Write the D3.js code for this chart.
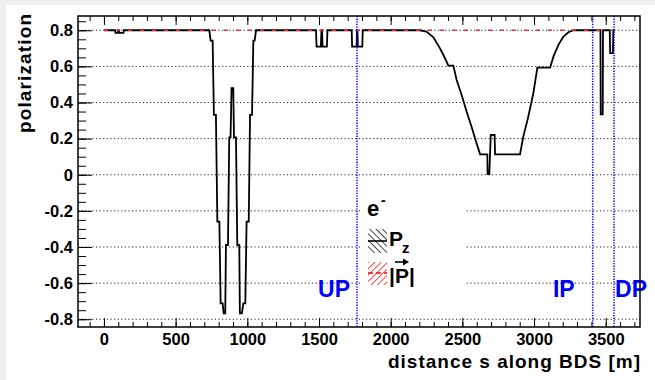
<!DOCTYPE html>
<html>
<head>
<meta charset="utf-8">
<script src="https://cdn.jsdelivr.net/npm/d3@7"></script>
<style>
body { margin: 0; background: #efefef; }
svg { display: block; font-family: "Liberation Sans", Arial, sans-serif; font-weight: bold; }
</style>
</head>
<body>
<svg id="chart" width="655" height="380"></svg>
<script>
// longitudinal polarisation P_z along the beam delivery system, [s (m), P]
var pzCurve = [
  [0, 0.8], [77, 0.8], [80, 0.786], [96, 0.786], [99, 0.8], [104, 0.8], [107, 0.786], [136, 0.786], [139, 0.8],
  [735, 0.8], [744, 0.743], [758, 0.743], [767, 0.331], [781, 0.331], [791, -0.26], [805, -0.26],
  [814, -0.712], [828, -0.712], [835, -0.767], [846, -0.767], [851, -0.389], [865, -0.389],
  [874, 0.207], [883, 0.207], [890, 0.479], [902, 0.479], [907, 0.207], [921, 0.207],
  [930, -0.389], [944, -0.389], [948, -0.767], [962, -0.767], [972, -0.712], [986, -0.712],
  [995, -0.26], [1010, -0.26], [1019, 0.331], [1033, 0.331], [1042, 0.743], [1051, 0.743], [1061, 0.8],
  [1479, 0.8], [1483, 0.709], [1513, 0.709], [1517, 0.8], [1521, 0.8], [1525, 0.709], [1555, 0.709], [1559, 0.8],
  [1728, 0.8], [1731, 0.709], [1762, 0.709], [1765, 0.8], [1768, 0.8], [1771, 0.709], [1802, 0.709], [1805, 0.8],
  [2205, 0.8], [2251, 0.792], [2298, 0.761], [2344, 0.7], [2379, 0.645], [2402, 0.604], [2437, 0.604],
  [2460, 0.525], [2495, 0.442], [2530, 0.349], [2564, 0.266], [2599, 0.174], [2624, 0.113], [2674, 0.113],
  [2676, 0.003], [2688, 0.003], [2698, 0.22], [2725, 0.22], [2728, 0.113], [2902, 0.113],
  [2925, 0.211], [2960, 0.322], [2995, 0.451], [3023, 0.593], [3112, 0.593],
  [3135, 0.654], [3170, 0.719], [3205, 0.765], [3240, 0.789], [3274, 0.8],
  [3463, 0.8], [3465, 0.335], [3479, 0.335], [3481, 0.8],
  [3528, 0.8], [3531, 0.673], [3550, 0.673], [3553, 0.8], [3561, 0.8]
];
// total polarisation |P|
var pAbsCurve = [[0, 0.8], [3470, 0.8]];

var markers = [
  { name: "UP", s: 1765 },
  { name: "IP", s: 3409 },
  { name: "DP", s: 3558 }
];

var xMajorTicks = [0, 500, 1000, 1500, 2000, 2500, 3000, 3500];
var xMinorTicks = d3.range(-100, 3701, 100);
var yMajorTicks = [-0.8, -0.6, -0.4, -0.2, 0, 0.2, 0.4, 0.6, 0.8];
var yMinorTicks = d3.range(-16, 18).map(function(k){ return k * 0.05; });

var svg = d3.select("#chart");
var frame = { left: 78, top: 16, right: 640, bottom: 327 };

var x = d3.scaleLinear().domain([-181, 3739]).range([frame.left, frame.right]);
var y = d3.scaleLinear().domain([-0.843, 0.879]).range([frame.bottom, frame.top]);

// canvas (ROOT-ish bevel on top / left)
svg.append("rect").attr("x", 6).attr("y", 5).attr("width", 649).attr("height", 375).attr("fill", "#fff");

// hatch patterns for the legend
var defs = svg.append("defs");
var hb = defs.append("pattern").attr("id", "hatchBlack").attr("patternUnits", "userSpaceOnUse")
    .attr("width", 4.5).attr("height", 4.5).attr("patternTransform", "rotate(-45)");
hb.append("line").attr("x1", 0).attr("y1", 0).attr("x2", 0).attr("y2", 4.5).attr("stroke", "#000").attr("stroke-width", 1.4);
var hr = defs.append("pattern").attr("id", "hatchRed").attr("patternUnits", "userSpaceOnUse")
    .attr("width", 4.5).attr("height", 4.5).attr("patternTransform", "rotate(45)");
hr.append("line").attr("x1", 0).attr("y1", 0).attr("x2", 0).attr("y2", 4.5).attr("stroke", "#f00").attr("stroke-width", 1.4);

// horizontal dotted grid
svg.append("g").selectAll("line").data(yMajorTicks).join("line")
    .attr("x1", frame.left).attr("x2", frame.right)
    .attr("y1", function(d){ return y(d); }).attr("y2", function(d){ return y(d); })
    .attr("stroke", "#222").attr("stroke-width", 1).attr("stroke-dasharray", "1.2,2.4");

// curves
var line = d3.line().x(function(d){ return x(d[0]); }).y(function(d){ return y(d[1]); });
svg.append("path").datum(pzCurve).attr("d", line)
    .attr("fill", "none").attr("stroke", "#000").attr("stroke-width", 1.8).attr("stroke-linejoin", "miter");
svg.append("path").datum(pAbsCurve).attr("d", line)
    .attr("fill", "none").attr("stroke", "#f03030").attr("stroke-width", 1.4).attr("stroke-dasharray", "4,8");

// UP / IP / DP positions
svg.append("g").selectAll("line").data(markers).join("line")
    .attr("x1", function(d){ return x(d.s); }).attr("x2", function(d){ return x(d.s); })
    .attr("y1", frame.top).attr("y2", frame.bottom)
    .attr("stroke", "#00f").attr("stroke-width", 1.5).attr("stroke-dasharray", "1.3,1.3");

var labelPos = { UP: { dx: -7, anchor: "end" }, IP: { dx: -18, anchor: "end" }, DP: { dx: 1, anchor: "start" } };
svg.append("g").selectAll("text").data(markers).join("text")
    .attr("x", function(d){ return x(d.s) + labelPos[d.name].dx; })
    .attr("y", 297)
    .attr("text-anchor", function(d){ return labelPos[d.name].anchor; })
    .attr("fill", "#00f").attr("font-size", 23)
    .text(function(d){ return d.name; });

// legend
var leg = svg.append("g");
leg.append("rect").attr("x", 360).attr("y", 190).attr("width", 105).attr("height", 105).attr("fill", "#fff");
leg.append("text").attr("x", 367).attr("y", 216).attr("font-size", 22).text("e");
leg.append("text").attr("x", 381).attr("y", 205).attr("font-size", 14).text("-");
leg.append("rect").attr("x", 368).attr("y", 229).attr("width", 19).attr("height", 24).attr("fill", "url(#hatchBlack)");
leg.append("line").attr("x1", 368).attr("x2", 387).attr("y1", 241).attr("y2", 241).attr("stroke", "#000").attr("stroke-width", 1.6);
leg.append("text").attr("x", 389).attr("y", 246).attr("font-size", 21).text("P");
leg.append("text").attr("x", 402).attr("y", 253).attr("font-size", 15).text("z");
leg.append("rect").attr("x", 368).attr("y", 262).attr("width", 19).attr("height", 23).attr("fill", "url(#hatchRed)");
leg.append("line").attr("x1", 368).attr("x2", 387).attr("y1", 273).attr("y2", 273).attr("stroke", "#f00").attr("stroke-width", 1.6).attr("stroke-dasharray", "5,3");
leg.append("text").attr("x", 389).attr("y", 283).attr("font-size", 21).text("|P|");
leg.append("line").attr("x1", 395).attr("x2", 406).attr("y1", 262).attr("y2", 262).attr("stroke", "#000").attr("stroke-width", 1.6);
leg.append("path").attr("d", "M403,258.5 L409,262 L403,265.5 Z").attr("fill", "#000");

// axes: ticks point into the frame, ROOT style
function styleAxis(g){
  g.select(".domain").remove();
  g.selectAll(".tick line").attr("stroke", "#000").attr("stroke-width", 1);
  g.selectAll("text").attr("fill", "#000").attr("font-size", 16.5).attr("font-family", null);
}
svg.append("g").attr("transform", "translate(0," + frame.bottom + ")")
    .call(d3.axisBottom(x).tickValues(xMinorTicks).tickSize(-5).tickFormat(""))
    .call(styleAxis);
svg.append("g").attr("transform", "translate(0," + frame.bottom + ")")
    .call(d3.axisBottom(x).tickValues(xMajorTicks).tickSize(-9).tickPadding(6).tickFormat(d3.format("d")))
    .call(styleAxis);
svg.append("g").attr("transform", "translate(0," + frame.top + ")")
    .call(d3.axisTop(x).tickValues(xMinorTicks).tickSize(-5).tickFormat(""))
    .call(styleAxis);
svg.append("g").attr("transform", "translate(0," + frame.top + ")")
    .call(d3.axisTop(x).tickValues(xMajorTicks).tickSize(-9).tickFormat(""))
    .call(styleAxis);
svg.append("g").attr("transform", "translate(" + frame.left + ",0)")
    .call(d3.axisLeft(y).tickValues(yMinorTicks).tickSize(-8).tickFormat(""))
    .call(styleAxis);
svg.append("g").attr("transform", "translate(" + frame.left + ",0)")
    .call(d3.axisLeft(y).tickValues(yMajorTicks).tickSize(-14).tickPadding(5)
      .tickFormat(function(d){ return Math.abs(d) < 1e-9 ? "0" : d.toFixed(1); }))
    .call(styleAxis);

// frame
svg.append("rect").attr("x", frame.left).attr("y", frame.top)
    .attr("width", frame.right - frame.left).attr("height", frame.bottom - frame.top)
    .attr("fill", "none").attr("stroke", "#000").attr("stroke-width", 1.5);

// titles
svg.append("text").attr("x", frame.right).attr("y", 368).attr("text-anchor", "end")
    .attr("font-size", 19).attr("textLength", 252).attr("lengthAdjust", "spacing")
    .text("distance s along BDS [m]");
svg.append("text").attr("transform", "translate(31,14) rotate(-90)").attr("text-anchor", "end")
    .attr("font-size", 19).attr("textLength", 119).attr("lengthAdjust", "spacing")
    .text("polarization");
</script>
</body>
</html>
